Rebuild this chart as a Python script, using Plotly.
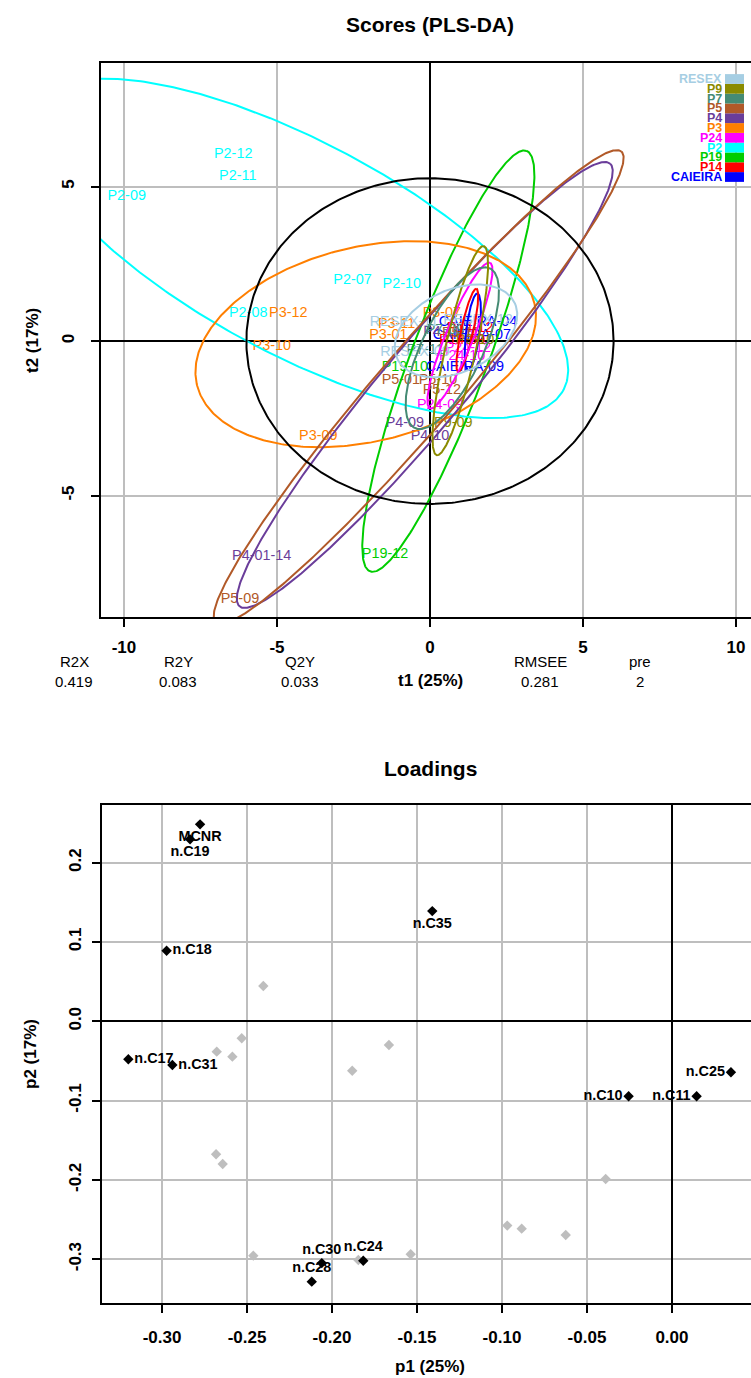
import numpy as np
import plotly.graph_objects as go

FONT = "Liberation Sans, Arial, sans-serif"
NARROW = "Liberation Sans Narrow, Liberation Sans, Arial, sans-serif"

# ---------------- Scores (PLS-DA) data ----------------
groups = ["CAIEIRA", "P14", "P19", "P2", "P24", "P3", "P4", "P5", "P7", "P9", "RESEX"]
group_colors = ["#0000FF", "#FF0000", "#00CD00", "#00FFFF", "#FF00FF", "#FF7F00",
                "#6A3D9A", "#B15928", "#458B74", "#8B8B00", "#A6CEE3"]

# confidence ellipse parameters per group (centre, semi-axes, rotation in degrees)
ell_cx = [1.40, 1.22, 0.60, -4.30, 0.98, -2.10, -0.17, -0.37, 0.73, 0.99, 0.85]
ell_cy = [0.30, 0.35, -0.65, 3.00, 0.18, -0.10, -1.42, -1.49, -0.23, -0.31, 0.33]
ell_a = [1.25, 1.38, 7.27, 9.80, 2.55, 5.67, 9.38, 10.10, 2.86, 3.47, 2.12]
ell_b = [0.22, 0.20, 1.25, 3.44, 0.45, 3.15, 1.35, 1.30, 1.00, 0.50, 1.33]
ell_ang = [83.0, 77.5, 69.4, -27.8, 67.4, 13.4, 49.8, 49.0, 64.5, 77.2, 25.0]

# Hotelling T2 ellipse semi-axes
hot_a = 6.0
hot_b = 5.27

# sample scores (labels drawn at their positions)
score_names = ["P2-12", "P2-11", "P2-09", "P2-07", "P2-10", "P2-08",
               "P3-12", "P3-10", "P3-09", "P3-01", "P3-11", "P3-07",
               "RESEX-11", "RESEX-12", "RESEX-09",
               "CAIEIRA-04", "CAIEIRA-07", "CAIEIRA-09",
               "P19-12", "P19-10",
               "P5-09", "P5-01", "P5-10", "P5-12", "P5-11",
               "P24-09", "P24-12", "P24-10",
               "P4-01-14", "P4-09", "P4-10", "P4-11",
               "P9-09", "P9-10",
               "P7-11", "P7-09",
               "P14-09", "P14-12"]
score_t1 = [-6.43, -6.28, -9.91, -2.53, -0.92, -5.94,
            -4.63, -5.17, -3.65, -1.36, -1.09, 0.39,
            -0.85, 1.57, -0.49,
            1.57, 1.37, 1.14,
            -1.47, -0.82,
            -6.21, -0.95, 0.26, 0.39, 1.00,
            0.33, 1.24, 1.05,
            -5.50, -0.82, 0.00, 0.39,
            0.76, 1.47,
            -0.16, 0.49,
            1.05, 1.31]
score_t2 = [6.03, 5.32, 4.69, 1.97, 1.84, 0.90,
            0.90, -0.16, -3.07, 0.19, 0.55, 0.90,
            0.61, 0.68, -0.36,
            0.61, 0.19, -0.84,
            -6.90, -0.84,
            -8.35, -1.26, -1.26, -1.59, 0.26,
            -2.07, -0.23, -0.49,
            -6.98, -2.66, -3.10, 0.29,
            -2.66, 0.03,
            -0.29, 0.36,
            0.03, 0.42]
score_group = ["P2"] * 6 + ["P3"] * 6 + ["RESEX"] * 3 + ["CAIEIRA"] * 3 + ["P19"] * 2 + \
              ["P5"] * 5 + ["P24"] * 3 + ["P4"] * 4 + ["P9"] * 2 + ["P7"] * 2 + ["P14"] * 2

stat_names = ["R2X", "R2Y", "Q2Y", "RMSEE", "pre"]
stat_values = ["0.419", "0.083", "0.033", "0.281", "2"]

# ---------------- Loadings data ----------------
load_names = ["MCNR", "n.C19", "n.C35", "n.C18", "n.C17", "n.C31",
              "n.C28", "n.C30", "n.C24", "n.C25", "n.C10", "n.C11"]
load_p1 = [-0.2776, -0.2835, -0.1410, -0.2973, -0.3198, -0.2939,
           -0.2119, -0.2060, -0.1816, 0.0347, -0.0255, 0.0145]
load_p2 = [0.2484, 0.2295, 0.1390, 0.0890, -0.0479, -0.0551,
           -0.3284, -0.3050, -0.3020, -0.0643, -0.0946, -0.0946]
load_pos = ["bottom center", "bottom center", "bottom center", "middle right", "middle right",
            "middle right", "top center", "top center", "top center", "middle left",
            "middle left", "middle left"]

other_p1 = [-0.2404, -0.2531, -0.2678, -0.2586, -0.1665, -0.1881, -0.2682, -0.2643,
            -0.2463, -0.1845, -0.1537, -0.0390, -0.0969, -0.0884, -0.0625]
other_p2 = [0.0445, -0.0214, -0.0383, -0.0446, -0.0299, -0.0623, -0.1677, -0.1800,
            -0.2956, -0.3010, -0.2938, -0.1989, -0.2577, -0.2615, -0.2695]

x1_ticks = [-10, -5, 0, 5, 10]
y1_ticks = [-5, 0, 5]
x2_ticks = [-0.30, -0.25, -0.20, -0.15, -0.10, -0.05, 0.00]
x2_ticktext = ["-0.30", "-0.25", "-0.20", "-0.15", "-0.10", "-0.05", "0.00"]
y2_ticks = [-0.3, -0.2, -0.1, 0.0, 0.1, 0.2]
y2_ticktext = ["-0.3", "-0.2", "-0.1", "0.0", "0.1", "0.2"]

# ---------------- figure ----------------
W, H = 751, 1378


def px(x):
    return x / W


def py(y):
    return 1 - y / H


fig = go.Figure()

# sample labels
for g, col in zip(groups, group_colors):
    idx = [i for i, s in enumerate(score_group) if s == g]
    if not idx:
        continue
    fig.add_trace(go.Scatter(
        x=[score_t1[i] for i in idx], y=[score_t2[i] for i in idx],
        text=[score_names[i] for i in idx], mode="text",
        textfont=dict(color=col, size=14.4, family=FONT),
        xaxis="x", yaxis="y", showlegend=False, hoverinfo="skip"))

# group ellipses
tt = np.linspace(0, 2 * np.pi, 400)
for g, col, cx, cy, a, b, ang in zip(groups, group_colors, ell_cx, ell_cy, ell_a, ell_b, ell_ang):
    r = np.deg2rad(ang)
    ex = cx + a * np.cos(tt) * np.cos(r) - b * np.sin(tt) * np.sin(r)
    ey = cy + a * np.cos(tt) * np.sin(r) + b * np.sin(tt) * np.cos(r)
    fig.add_trace(go.Scatter(x=ex, y=ey, mode="lines", line=dict(color=col, width=2),
                             xaxis="x", yaxis="y", showlegend=False, hoverinfo="skip"))

# Hotelling ellipse
fig.add_trace(go.Scatter(x=hot_a * np.cos(tt), y=hot_b * np.sin(tt), mode="lines",
                         line=dict(color="black", width=2), xaxis="x", yaxis="y",
                         showlegend=False, hoverinfo="skip"))

# loadings
fig.add_trace(go.Scatter(x=other_p1, y=other_p2, mode="markers",
                         marker=dict(symbol="diamond", size=8, color="#BEBEBE"),
                         xaxis="x2", yaxis="y2", showlegend=False, hoverinfo="skip"))
fig.add_trace(go.Scatter(x=load_p1, y=load_p2, mode="markers+text", text=load_names,
                         textposition=load_pos,
                         textfont=dict(color="black", size=14.4, family=FONT, weight="bold"),
                         marker=dict(symbol="diamond", size=8, color="black"),
                         xaxis="x2", yaxis="y2", showlegend=False, hoverinfo="skip"))

shapes = []
annotations = []

# legend for scores (drawn bottom-up in group order)
leg_top_px = 74
row_h = 9.8
n = len(groups)
x0 = (725 - 430) / 30.6
x1 = (744 - 430) / 30.6
for k, (g, col) in enumerate(zip(groups, group_colors)):
    row = n - 1 - k
    top = (341 - (leg_top_px + row * row_h)) / 30.9
    bot = (341 - (leg_top_px + (row + 1) * row_h)) / 30.9
    shapes.append(dict(type="rect", xref="x", yref="y", x0=x0, x1=x1, y0=bot, y1=top,
                       fillcolor=col, line=dict(width=0), layer="above"))
    annotations.append(dict(xref="x", yref="y", x=x0 - 0.02, y=(top + bot) / 2, text=g,
                            showarrow=False, xanchor="right", yanchor="middle",
                            font=dict(family=NARROW, size=12.5, color=col, weight="bold")))

# titles
annotations.append(dict(xref="paper", yref="paper", x=px(430), y=py(24), text="Scores (PLS-DA)",
                        showarrow=False, xanchor="center", yanchor="middle",
                        font=dict(family=FONT, size=21, color="black", weight="bold")))
annotations.append(dict(xref="paper", yref="paper", x=px(430), y=py(769), text="Loadings",
                        showarrow=False, xanchor="center", yanchor="middle",
                        font=dict(family=FONT, size=21, color="black", weight="bold")))
# axis titles
for txt, x, y, ang in [("t1 (25%)", 430, 680, 0), ("t2 (17%)", 32, 341, -90),
                       ("p1 (25%)", 430, 1366, 0), ("p2 (17%)", 30, 1054, -90)]:
    annotations.append(dict(xref="paper", yref="paper", x=px(x), y=py(y), text=txt,
                            showarrow=False, xanchor="center", yanchor="middle", textangle=ang,
                            font=dict(family=FONT, size=17, color="black", weight="bold")))
# model statistics
stat_x = [74, 178, 300, 540, 640]
for nm, val, x in zip(stat_names, stat_values, stat_x):
    annotations.append(dict(xref="paper", yref="paper", x=px(x), y=py(661), text=nm,
                            showarrow=False, xanchor="center", yanchor="middle",
                            font=dict(family=FONT, size=15, color="black")))
    annotations.append(dict(xref="paper", yref="paper", x=px(x), y=py(681), text=val,
                            showarrow=False, xanchor="center", yanchor="middle",
                            font=dict(family=FONT, size=15, color="black")))

tickfont = dict(family=FONT, size=17, color="black", weight="bold")
axis_common = dict(showgrid=True, gridcolor="#BEBEBE", gridwidth=2, zeroline=True,
                   zerolinecolor="black", zerolinewidth=2, showline=True, linecolor="black",
                   linewidth=2, ticks="outside", ticklen=8, tickwidth=1.5, tickcolor="black",
                   tickfont=tickfont, tickmode="array")

fig.update_layout(
    width=W, height=H, margin=dict(l=0, r=0, t=0, b=0),
    paper_bgcolor="white", plot_bgcolor="white", showlegend=False,
    xaxis=dict(domain=[px(101), 1], range=[-10.75, 10.49], tickvals=x1_ticks,
               ticktext=[str(v) for v in x1_ticks], anchor="y", mirror=True,
               ticklabelstandoff=6, **axis_common),
    yaxis=dict(domain=[py(617), py(63)], range=[-8.93, 9.0], tickvals=y1_ticks,
               ticktext=[str(v) for v in y1_ticks], anchor="x", tickangle=-90,
               ticklabelstandoff=10, **axis_common),
    xaxis2=dict(domain=[px(102), 1], range=[-0.3353, 0.0465], tickvals=x2_ticks,
                ticktext=x2_ticktext, anchor="y2", mirror=True, ticklabelstandoff=10,
                **axis_common),
    yaxis2=dict(domain=[py(1303), py(805)], range=[-0.3553, 0.2728], tickvals=y2_ticks,
                ticktext=y2_ticktext, anchor="x2", tickangle=-90, ticklabelstandoff=4,
                **axis_common),
    shapes=shapes, annotations=annotations,
)

fig.write_html("out.html")
